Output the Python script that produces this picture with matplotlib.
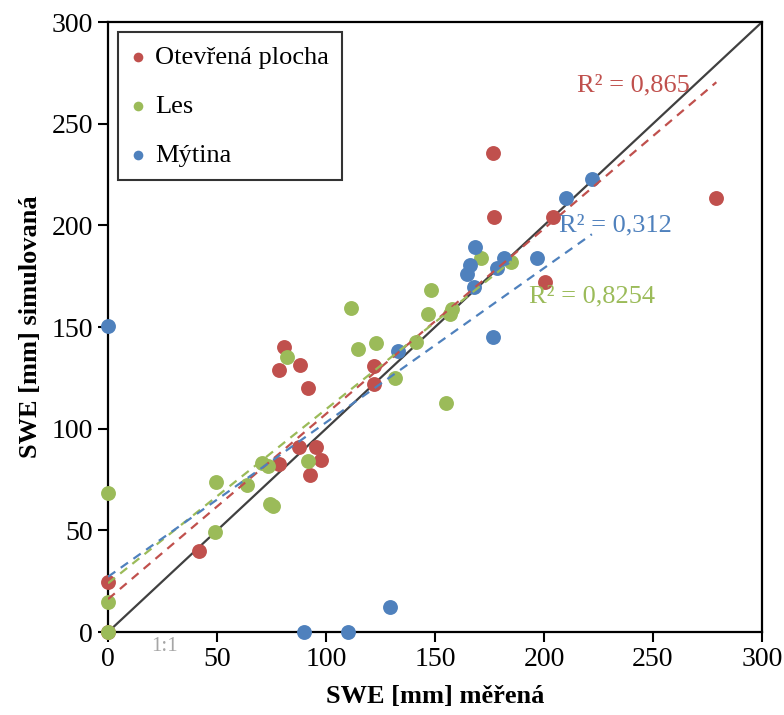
import numpy as np
import matplotlib
matplotlib.use("Agg")
import matplotlib.pyplot as plt

plt.rcParams['font.family'] = ['Liberation Serif', 'DejaVu Serif']

# measured vs simulated SWE [mm]
open_x = [0, 0, 41.9, 80.9, 78.6, 88.3, 91.8, 87.8, 95.5, 97.8, 92.7, 78.3, 121.8, 121.8,
          176.6, 176.9, 204.0, 279.1, 200.3]
open_y = [0, 24.4, 40.0, 140.3, 129.0, 131.3, 119.9, 91.1, 91.1, 84.6, 77.2, 82.6, 131.0, 122.0,
          235.8, 204.3, 204.2, 213.6, 172.3]

forest_x = [0, 0, 0, 49.1, 49.6, 63.9, 70.5, 73.6, 74.1, 75.9, 82.3, 91.7, 111.6, 114.9,
            123.0, 131.5, 141.4, 146.6, 148.1, 154.9, 157.0, 157.6, 171.3, 185.0]
forest_y = [0, 14.9, 68.5, 49.3, 73.6, 72.3, 83.0, 81.8, 62.8, 62.0, 135.4, 84.1, 159.2, 139.2,
            142.3, 124.9, 142.8, 156.3, 168.2, 112.8, 156.3, 158.9, 184.1, 181.8]

clear_x = [0, 90.1, 110.1, 129.2, 133.0, 164.6, 166.2, 167.7, 168.2, 176.4, 178.4, 181.8,
           196.8, 210.3, 222.0]
clear_y = [150.7, 0, 0, 12.5, 138.2, 176.1, 180.5, 169.8, 189.5, 145.3, 178.9, 183.8,
           183.8, 213.3, 222.7]

labels = ['Otevřená plocha', 'Les', 'Mýtina']
colors = ['#C0504D', '#9BBB59', '#4F81BD']

# linear trendlines as shown in the chart (slope, intercept)
trend_slope = [0.911, 0.856, 0.759]
trend_icpt = [16.2, 24.0, 27.2]
r2_text = ['R² = 0,865', 'R² = 0,8254', 'R² = 0,312']
r2_pos = [(215, 269), (193, 165), (207, 200)]

fig = plt.figure(figsize=(7.84, 7.15), dpi=100)
ax = fig.add_axes([0.1378, 0.116, 0.834, 0.853])

# 1:1 line
ax.plot([0, 300], [0, 300], color='#404040', lw=1.6, zorder=1)

series = [(open_x, open_y), (forest_x, forest_y), (clear_x, clear_y)]
for i, ((x, y), lab, col) in enumerate(zip(series, labels, colors)):
    x = np.array(x)
    y = np.array(y)
    ax.scatter(x, y, s=115, color=col, label=lab, zorder=3, clip_on=False, linewidths=0)
    xs = np.array([x.min(), x.max()])
    ax.plot(xs, trend_slope[i] * xs + trend_icpt[i], color=col, lw=1.6,
            ls=(0, (4, 3)), zorder=4)
    ax.text(r2_pos[i][0], r2_pos[i][1], r2_text[i], color=col, fontsize=19,
            ha='left', va='center', zorder=5)

ax.text(26, -7, '1:1', color='#A6A6A6', fontsize=15, ha='center', va='center', clip_on=False)

ax.set_xlim(0, 300)
ax.set_ylim(0, 300)
ax.set_xticks(range(0, 301, 50))
ax.set_yticks(range(0, 301, 50))
ax.tick_params(direction='out', length=7, width=1.5, labelsize=20, pad=4)
for sp in ax.spines.values():
    sp.set_linewidth(1.6)
    sp.set_color('black')

ax.set_xlabel('SWE [mm] měřená', fontsize=19, fontweight='bold', labelpad=9)
ax.set_ylabel('SWE [mm] simulovaná', fontsize=19, fontweight='bold', labelpad=7)

leg = ax.legend(loc='upper left', bbox_to_anchor=(0.015, 0.984), fontsize=19, frameon=True,
                fancybox=False, edgecolor='black', markerscale=0.65, handletextpad=0.35,
                labelspacing=0.97, borderpad=0.5, handlelength=0.55, borderaxespad=0)
leg.get_frame().set_linewidth(1.5)

fig.savefig('out.png', dpi=100)
